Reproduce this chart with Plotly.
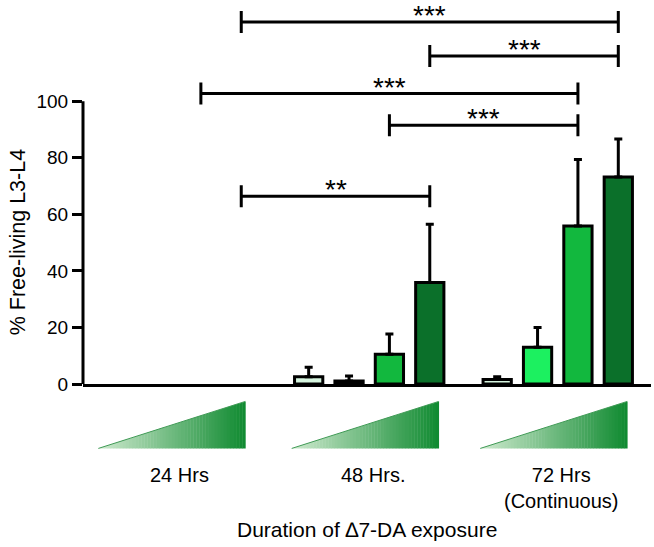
import plotly.graph_objects as go

# ---------------- data ----------------
groups = ["24 Hrs", "48 Hrs.", "72 Hrs<br>(Continuous)"]
dose_names = ["Dose 1", "Dose 2", "Dose 3", "Dose 4"]
# values[dose][group]
values = [
    [0.0, 2.6, 1.6],
    [0.0, 1.1, 13.0],
    [0.0, 10.5, 55.9],
    [0.0, 35.9, 73.2],
]
errors = [
    [0.0, 3.3, 1.0],
    [0.0, 1.7, 7.0],
    [0.0, 7.2, 23.5],
    [0.0, 20.6, 13.4],
]
bar_colors = ["#d6f5df", "#1cf060", "#12b83e", "#0b702a"]
# significance brackets: (group1, dose1, group2, dose2, height, label)
brackets = [
    (0, 3, 2, 3, 128.0, "***"),
    (1, 3, 2, 3, 116.0, "***"),
    (0, 2, 2, 2, 102.7, "***"),
    (1, 2, 2, 2, 91.5, "***"),
    (0, 3, 1, 3, 66.4, "**"),
]
y_ticks = [0, 20, 40, 60, 80, 100]
y_title = "% Free-living L3-L4"
x_title = "Duration of \u22067-DA exposure"

# ---------------- layout helpers ----------------
GAP = 4.67  # distance between groups, in bar slots


def xpos(g, j):
    return g * GAP + j


FONT = "Arial, Liberation Sans, sans-serif"

fig = go.Figure()
for j in range(4):
    fig.add_trace(go.Bar(
        x=[xpos(g, j) for g in range(3)],
        y=[v if v > 0 else None for v in values[j]],
        name=dose_names[j],
        width=0.7,
        marker=dict(color=bar_colors[j], line=dict(color="black", width=3)),
        error_y=dict(type="data", symmetric=False,
                     array=[e if v > 0 else None for e, v in zip(errors[j], values[j])],
                     arrayminus=[0] * 3, color="black", thickness=3, width=4),
        showlegend=False,
        hoverinfo="skip",
    ))

shapes = []
# y axis line only from 0 to 100
shapes.append(dict(type="line", xref="paper", yref="y", x0=0, x1=0, y0=0, y1=100,
                   line=dict(color="black", width=3)))

annotations = []
for g1, j1, g2, j2, h, lab in brackets:
    xa, xb = xpos(g1, j1), xpos(g2, j2)
    path = (f"M{xa},{h-3.9} L{xa},{h+3.9} M{xa},{h} L{xb},{h} "
            f"M{xb},{h-3.9} L{xb},{h+3.9}")
    shapes.append(dict(type="path", xref="x", yref="y", path=path,
                       line=dict(color="black", width=3)))
    annotations.append(dict(x=(xa + xb) / 2, y=h, xref="x", yref="y", text=lab,
                            showarrow=False, yanchor="bottom", yshift=-10,
                            borderpad=0,
                            font=dict(family=FONT, size=28, color="black")))


# gradient triangles under each group
def hexmix(c1, c2, t):
    a = [int(c1[i:i + 2], 16) for i in (1, 3, 5)]
    b = [int(c2[i:i + 2], 16) for i in (1, 3, 5)]
    return "#%02x%02x%02x" % tuple(round(a[k] + (b[k] - a[k]) * t) for k in range(3))


TRI_TOP, TRI_BOT = -0.046, -0.170
N = 48
for g in range(3):
    left = xpos(g, 0) - 0.42 - (0.12 if g == 0 else 0)
    right = xpos(g, 3) + 0.22 - (0.12 if g == 0 else 0)
    for k in range(N):
        t0, t1 = k / N, (k + 1) / N
        xa = left + (right - left) * t0
        xb = left + (right - left) * t1 + 0.01
        ya = TRI_BOT + (TRI_TOP - TRI_BOT) * t0
        yb = TRI_BOT + (TRI_TOP - TRI_BOT) * min(t1, 1)
        col = hexmix("#cfeacf", "#0f8a30", (t0 + t1) / 2)
        shapes.append(dict(type="path", xref="x", yref="paper",
                           path=f"M{xa},{TRI_BOT} L{xb},{TRI_BOT} L{xb},{yb} L{xa},{ya} Z",
                           fillcolor=col, line=dict(width=0), layer="above"))
    shapes.append(dict(type="path", xref="x", yref="paper",
                       path=f"M{left},{TRI_BOT} L{right},{TRI_TOP}",
                       line=dict(color="#3f9a55", width=1)))
    # group label
    annotations.append(dict(x=(left + right) / 2 + 0.2, y=-0.205, xref="x", yref="paper",
                            text=groups[g], showarrow=False, yanchor="top",
                            font=dict(family=FONT, size=20, color="black")))

annotations.append(dict(x=0.50, y=-0.383, xref="paper", yref="paper", text=x_title,
                        showarrow=False, yanchor="middle", xanchor="center",
                        font=dict(family=FONT, size=21, color="black")))
annotations.append(dict(x=-0.115, y=50, xref="paper", yref="y", text=y_title,
                        textangle=-90, showarrow=False, xanchor="center", yanchor="middle",
                        font=dict(family=FONT, size=21.5, color="black")))

fig.update_layout(
    width=654, height=547,
    margin=dict(l=83, r=3, t=5, b=163),
    paper_bgcolor="white", plot_bgcolor="white",
    barmode="overlay",
    hovermode=False,
    shapes=shapes, annotations=annotations,
    xaxis=dict(range=[-0.92, 13.15], showticklabels=False, ticks="", showgrid=False,
               zeroline=False, showline=True, linecolor="black", linewidth=3),
    yaxis=dict(range=[0, 134], tickvals=y_ticks, ticks="outside", ticklen=10,
               tickwidth=3, tickcolor="black", showgrid=False, zeroline=False,
               showline=False, tickfont=dict(family=FONT, size=19, color="black")),
)

fig.write_html("out.html", config={"displayModeBar": False, "staticPlot": True},
               post_script="document.body.style.margin='0';document.body.style.overflow='hidden';")
